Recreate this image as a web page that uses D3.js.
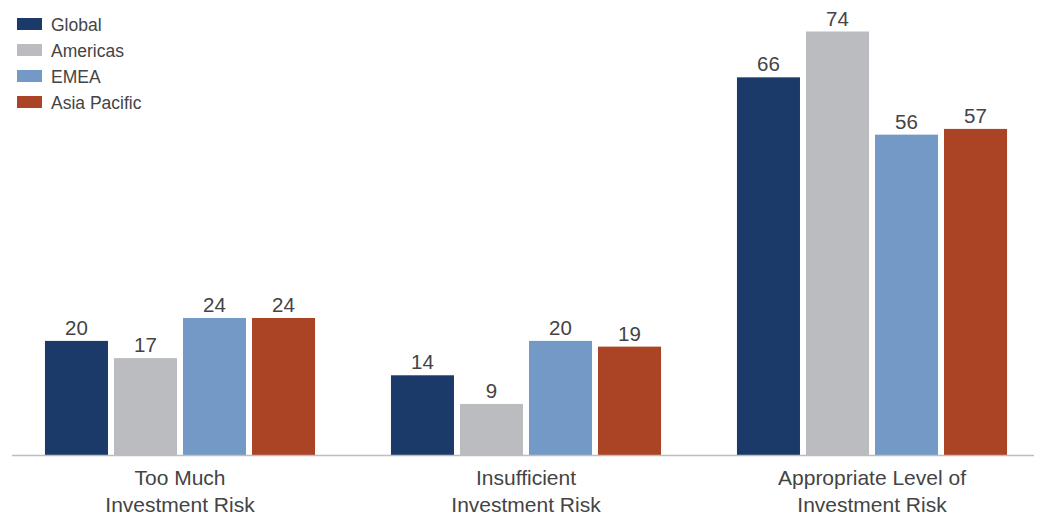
<!DOCTYPE html>
<html>
<head>
<meta charset="utf-8">
<script src="https://cdn.jsdelivr.net/npm/d3@7"></script>
<style>
  html, body { margin: 0; padding: 0; background: #fff; }
  svg { display: block; }
  text { font-family: "Liberation Sans", Arial, sans-serif; fill: #444; }
</style>
</head>
<body>
<svg id="chart" width="1039" height="517"></svg>
<script>
// Survey responses (%) by region
const categories = [
  ["Too Much", "Investment Risk"],
  ["Insufficient", "Investment Risk"],
  ["Appropriate Level of", "Investment Risk"]
];
const seriesNames = ["Global", "Americas", "EMEA", "Asia Pacific"];
const globalValues = [20, 14, 66];
const americasValues = [17, 9, 74];
const emeaValues = [24, 20, 56];
const asiaPacificValues = [24, 19, 57];
const seriesColors = ["#1b3a69", "#bbbcc0", "#7399c6", "#ab4325"];

const seriesValues = [globalValues, americasValues, emeaValues, asiaPacificValues];
const catKeys = categories.map(c => c.join(" "));

const svg = d3.select("#chart");
const baseY = 455.5;

const x0 = d3.scaleBand().domain(catKeys).range([7, 1045]).paddingInner(0).paddingOuter(0);
const x1 = d3.scaleBand().domain(seriesNames).range([0, x0.bandwidth()])
  .paddingInner(6 / 69).paddingOuter(0.55);
const y = d3.scaleLinear().domain([0, 74]).range([baseY, 31.5]);

const rows = [];
catKeys.forEach((k, ci) => {
  seriesNames.forEach((s, si) => {
    rows.push({ cat: k, series: s, value: seriesValues[si][ci], color: seriesColors[si] });
  });
});

const g = svg.append("g");

g.selectAll("rect.bar").data(rows).join("rect")
  .attr("class", "bar")
  .attr("x", d => x0(d.cat) + x1(d.series))
  .attr("width", x1.bandwidth())
  .attr("y", d => y(d.value))
  .attr("height", d => baseY - y(d.value))
  .attr("fill", d => d.color);

g.selectAll("text.val").data(rows).join("text")
  .attr("class", "val")
  .attr("x", d => x0(d.cat) + x1(d.series) + x1.bandwidth() / 2)
  .attr("y", d => y(d.value) - 6)
  .attr("text-anchor", "middle")
  .style("font-size", "20.5px")
  .text(d => d.value);

// Baseline
svg.append("line")
  .attr("x1", 12).attr("x2", 1034)
  .attr("y1", baseY).attr("y2", baseY)
  .attr("stroke", "#bdbdbd").attr("stroke-width", 1.5);

// Category labels (two lines each)
const xAxis = svg.append("g").attr("transform", `translate(0,${baseY})`)
  .call(d3.axisBottom(x0).tickSize(0).tickFormat(""));
xAxis.select(".domain").remove();
xAxis.selectAll(".tick").each(function(d, i) {
  const t = d3.select(this).append("text")
    .attr("text-anchor", "middle")
    .style("font-size", "21px");
  categories[i].forEach((line, li) => {
    t.append("tspan").attr("x", 0).attr("y", 29.5 + li * 26.5).text(line);
  });
});

// Legend
const legend = svg.append("g").attr("transform", "translate(17,18)");
const item = legend.selectAll("g").data(seriesNames).join("g")
  .attr("transform", (d, i) => `translate(0,${i * 26})`);
item.append("rect").attr("width", 25).attr("height", 12)
  .attr("fill", (d, i) => seriesColors[i]);
item.append("text").attr("x", 34).attr("y", 12.5)
  .style("font-size", "17.5px").text(d => d);
</script>
</body>
</html>
